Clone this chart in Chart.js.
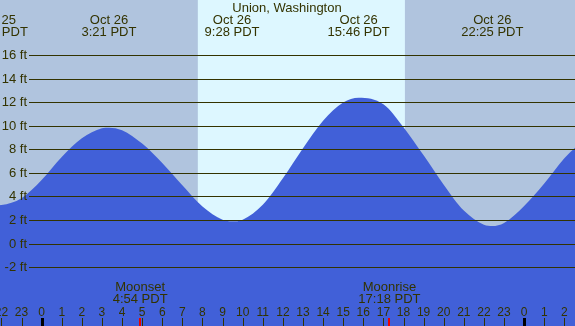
<!DOCTYPE html>
<html>
<head>
<meta charset="utf-8">
<script src="https://cdn.jsdelivr.net/npm/chart.js@4"></script>
<style>
  body { margin: 0; background: #b0c4de; }
  canvas { display: block; }
</style>
</head>
<body>
<canvas id="tideChart" width="575" height="326"></canvas>
<script>
// hours relative to Oct 26 00:00 PDT, heights in feet
const tideHours   = [-3, -2.23, -2, -1, 0, 1, 2, 3, 3.35, 4, 5, 6, 7, 8, 9, 9.47, 10, 11, 12, 13, 14, 15, 15.77, 17, 18, 19, 20, 21, 22, 22.42, 23, 24, 25, 26, 27];
const tideHeights = [3.4, 3.25, 3.27, 3.85, 5.4, 7.35, 8.95, 9.8, 9.86, 9.64, 8.5, 6.85, 4.95, 3.15, 2.02, 1.89, 2.03, 3.3, 5.55, 8.1, 10.45, 12.0, 12.41, 11.85, 9.9, 7.5, 5.0, 2.8, 1.6, 1.49, 1.75, 3.2, 5.1, 7.25, 8.9];

const extremeHours  = [-2.23, 3.35, 9.47, 15.77, 22.42];
const extremeDates  = ['Oct 25', 'Oct 26', 'Oct 26', 'Oct 26', 'Oct 26'];
const extremeTimes  = ['21:46 PDT', '3:21 PDT', '9:28 PDT', '15:46 PDT', '22:25 PDT'];

const moonHours  = [4.9, 17.3];
const moonNames  = ['Moonset', 'Moonrise'];
const moonTimes  = ['4:54 PDT', '17:18 PDT'];

const sunrise = 7.77;
const sunset = 18.07;

const feetTicks = [-2, 0, 2, 4, 6, 8, 10, 12, 14, 16];
const hourTicks = [-2, -1, 0, 1, 2, 3, 4, 5, 6, 7, 8, 9, 10, 11, 12, 13, 14, 15, 16, 17, 18, 19, 20, 21, 22, 23, 24, 25, 26];

const title = 'Union, Washington';
const ink = '#333300';
const font = '13px "Liberation Sans", Arial, sans-serif';
const hourFont = '12px "Liberation Sans", Arial, sans-serif';

const tidePoints = tideHours.map((h, i) => ({ x: h, y: tideHeights[i] }));

const decorations = {
  id: 'decorations',
  beforeDatasetsDraw(chart) {
    const ctx = chart.ctx;
    const x = chart.scales.x;
    const area = chart.chartArea;
    ctx.save();
    ctx.fillStyle = '#b0c4de';
    ctx.fillRect(area.left, area.top, area.right - area.left, area.bottom - area.top);
    ctx.fillStyle = '#ddf7ff';
    const x1 = x.getPixelForValue(sunrise);
    const x2 = x.getPixelForValue(sunset);
    ctx.fillRect(x1, area.top, x2 - x1, area.bottom - area.top);
    ctx.restore();
  },
  afterDatasetsDraw(chart) {
    const ctx = chart.ctx;
    const x = chart.scales.x;
    const y = chart.scales.y;
    const area = chart.chartArea;
    ctx.save();
    ctx.font = font;
    ctx.fillStyle = ink;
    ctx.strokeStyle = ink;

    // feet grid
    ctx.lineWidth = 1;
    feetTicks.forEach(f => {
      const py = Math.round(y.getPixelForValue(f)) + 0.5;
      ctx.beginPath();
      ctx.moveTo(29, py);
      ctx.lineTo(area.right, py);
      ctx.stroke();
      ctx.textAlign = 'right';
      ctx.textBaseline = 'middle';
      ctx.fillText(f + ' ft', 27, py);
    });

    // title and high/low labels
    ctx.textAlign = 'center';
    ctx.textBaseline = 'alphabetic';
    ctx.fillText(title, 287, 12);
    extremeHours.forEach((h, i) => {
      const px = x.getPixelForValue(h);
      ctx.fillText(extremeDates[i], px, 24);
      ctx.fillText(extremeTimes[i], px, 36);
    });

    // moon events
    moonHours.forEach((h, i) => {
      const px = x.getPixelForValue(h);
      ctx.fillStyle = ink;
      ctx.fillText(moonNames[i], px, 291);
      ctx.fillText(moonTimes[i], px, 303);
      ctx.fillStyle = '#ee0000';
      ctx.fillRect(Math.round(px) - 1, 318, 2, 8);
    });

    // hour axis
    ctx.font = hourFont;
    ctx.fillStyle = ink;
    hourTicks.forEach(h => {
      const px = x.getPixelForValue(h);
      const label = String(((h % 24) + 24) % 24);
      ctx.fillText(label, px, 316);
      const midnight = h % 24 === 0;
      ctx.fillStyle = midnight ? '#000000' : ink;
      if (midnight) ctx.fillRect(Math.round(px) - 1, 318, 3, 8);
      else ctx.fillRect(Math.round(px), 318, 1, 8);
      ctx.fillStyle = ink;
    });
    ctx.restore();
  }
};

new Chart(document.getElementById('tideChart').getContext('2d'), {
  type: 'line',
  data: {
    datasets: [{
      data: tidePoints,
      fill: 'start',
      backgroundColor: '#4160d8',
      borderWidth: 0,
      pointRadius: 0,
      cubicInterpolationMode: 'monotone'
    }]
  },
  options: {
    responsive: false,
    animation: false,
    events: [],
    layout: { padding: 0 },
    plugins: {
      legend: { display: false },
      tooltip: { enabled: false }
    },
    scales: {
      x: { type: 'linear', min: -2.07, max: 26.53, display: false },
      y: { min: -7.02, max: 20.72, display: false }
    }
  },
  plugins: [decorations]
});
</script>
</body>
</html>
